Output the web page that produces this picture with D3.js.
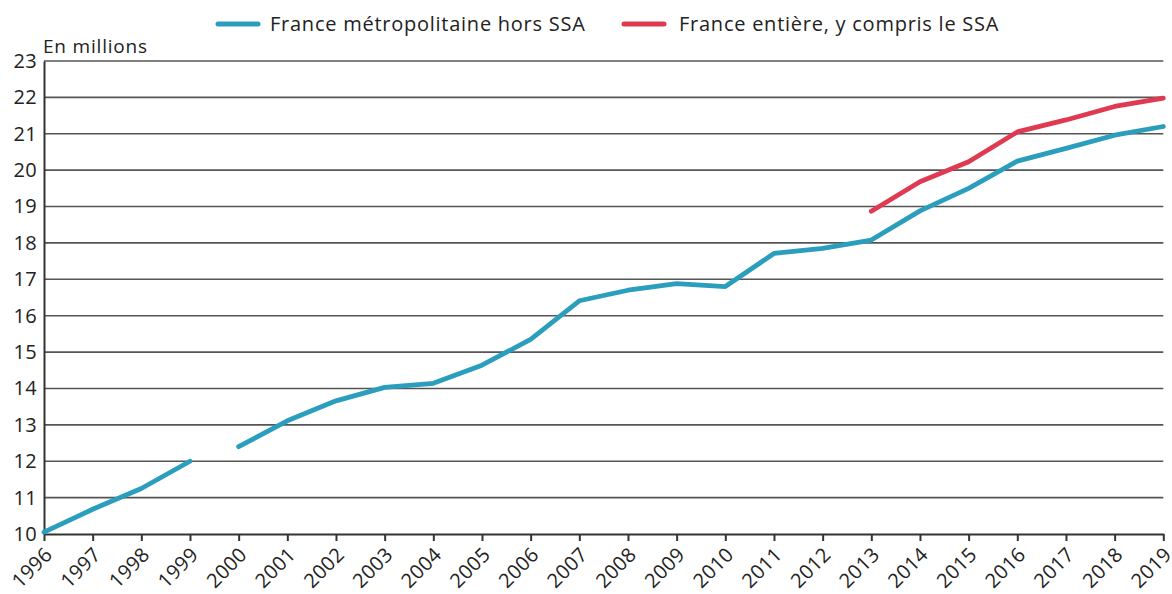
<!DOCTYPE html>
<html><head><meta charset="utf-8">
<script src="https://cdn.jsdelivr.net/npm/d3@7"></script>
<style>
body{margin:0;background:#fff;}
svg text{font-family:"Open Sans","Noto Sans",sans-serif;fill:#222;}
</style></head>
<body><svg id="c" width="1172" height="594"></svg>
<script>
const years = [1996,1997,1998,1999,2000,2001,2002,2003,2004,2005,2006,2007,2008,2009,2010,2011,2012,2013,2014,2015,2016,2017,2018,2019];
const metro = [10.05,10.68,11.25,12.0,12.4,13.11,13.66,14.03,14.14,14.64,15.35,16.41,16.70,16.88,16.80,17.71,17.85,18.08,18.88,19.50,20.25,20.60,20.96,21.2];
const entiere = [null,null,null,null,null,null,null,null,null,null,null,null,null,null,null,null,null,18.87,19.68,20.23,21.05,21.38,21.75,21.98];
const yTicks = [10,11,12,13,14,15,16,17,18,19,20,21,22,23];
const seriesNames = ["France métropolitaine hors SSA","France entière, y compris le SSA"];
const colors = ["#2b9ebe","#e03a52"];

const svg = d3.select("#c");
const x = d3.scaleLinear().domain([1996,2019]).range([44,1163.3]);
const y = d3.scaleLinear().domain([10,23]).range([534,61]);

// gridlines
svg.append("g").selectAll("line").data(yTicks.filter(d=>d>10)).join("line")
  .attr("x1",44).attr("x2",1163.3).attr("y1",d=>y(d)).attr("y2",d=>y(d))
  .attr("stroke","#555").attr("stroke-width",1.6);

// y axis
const ya = svg.append("g").attr("transform","translate(44,0)")
  .call(d3.axisLeft(y).tickValues(yTicks).tickSize(0).tickPadding(7));
ya.select(".domain").attr("stroke","#333").attr("stroke-width",2);
ya.selectAll("text").attr("font-size",20).attr("fill","#222").attr("letter-spacing",0.3);

// x axis
const xa = svg.append("g").attr("transform","translate(0,534)")
  .call(d3.axisBottom(x).tickValues(years).tickFormat(d3.format("d")).tickSize(7).tickSizeOuter(0));
xa.select(".domain").attr("stroke","#333").attr("stroke-width",2);
xa.selectAll(".tick line").attr("stroke","#333").attr("stroke-width",2);
xa.selectAll("text").attr("font-size",20).attr("fill","#222").attr("letter-spacing",0.3)
  .attr("text-anchor","end").attr("x",0).attr("y",0).attr("dy","0.35em").attr("dx",0)
  .attr("transform","translate(4,17) rotate(-45)");

// y label
svg.append("text").attr("x",43).attr("y",53).attr("font-size",19).attr("letter-spacing",0.8).text("En millions");

// lines
const line = d3.line().defined(d=>d[1]!=null).x(d=>x(d[0])).y(d=>y(d[1]));
const metroA = years.map((yr,i)=>[yr,metro[i]]).filter(d=>d[0]<=1999);
const metroB = years.map((yr,i)=>[yr,metro[i]]).filter(d=>d[0]>=2000);
[metroA,metroB].forEach(seg=>{
  svg.append("path").datum(seg).attr("d",line).attr("fill","none")
    .attr("stroke",colors[0]).attr("stroke-width",4.8).attr("stroke-linejoin","round").attr("stroke-linecap","round");
});
svg.append("path").datum(years.map((yr,i)=>[yr,entiere[i]])).attr("d",line).attr("fill","none")
  .attr("stroke",colors[1]).attr("stroke-width",4.8).attr("stroke-linejoin","round").attr("stroke-linecap","round");

// legend
const leg = [{x:218,tx:270},{x:624,tx:679}];
leg.forEach((l,i)=>{
  svg.append("line").attr("x1",l.x).attr("x2",l.x+40).attr("y1",24).attr("y2",24)
    .attr("stroke",colors[i]).attr("stroke-width",5).attr("stroke-linecap","round");
  svg.append("text").attr("x",l.tx).attr("y",31).attr("font-size",20).attr("letter-spacing",0.75).text(seriesNames[i]);
});
</script></body></html>
